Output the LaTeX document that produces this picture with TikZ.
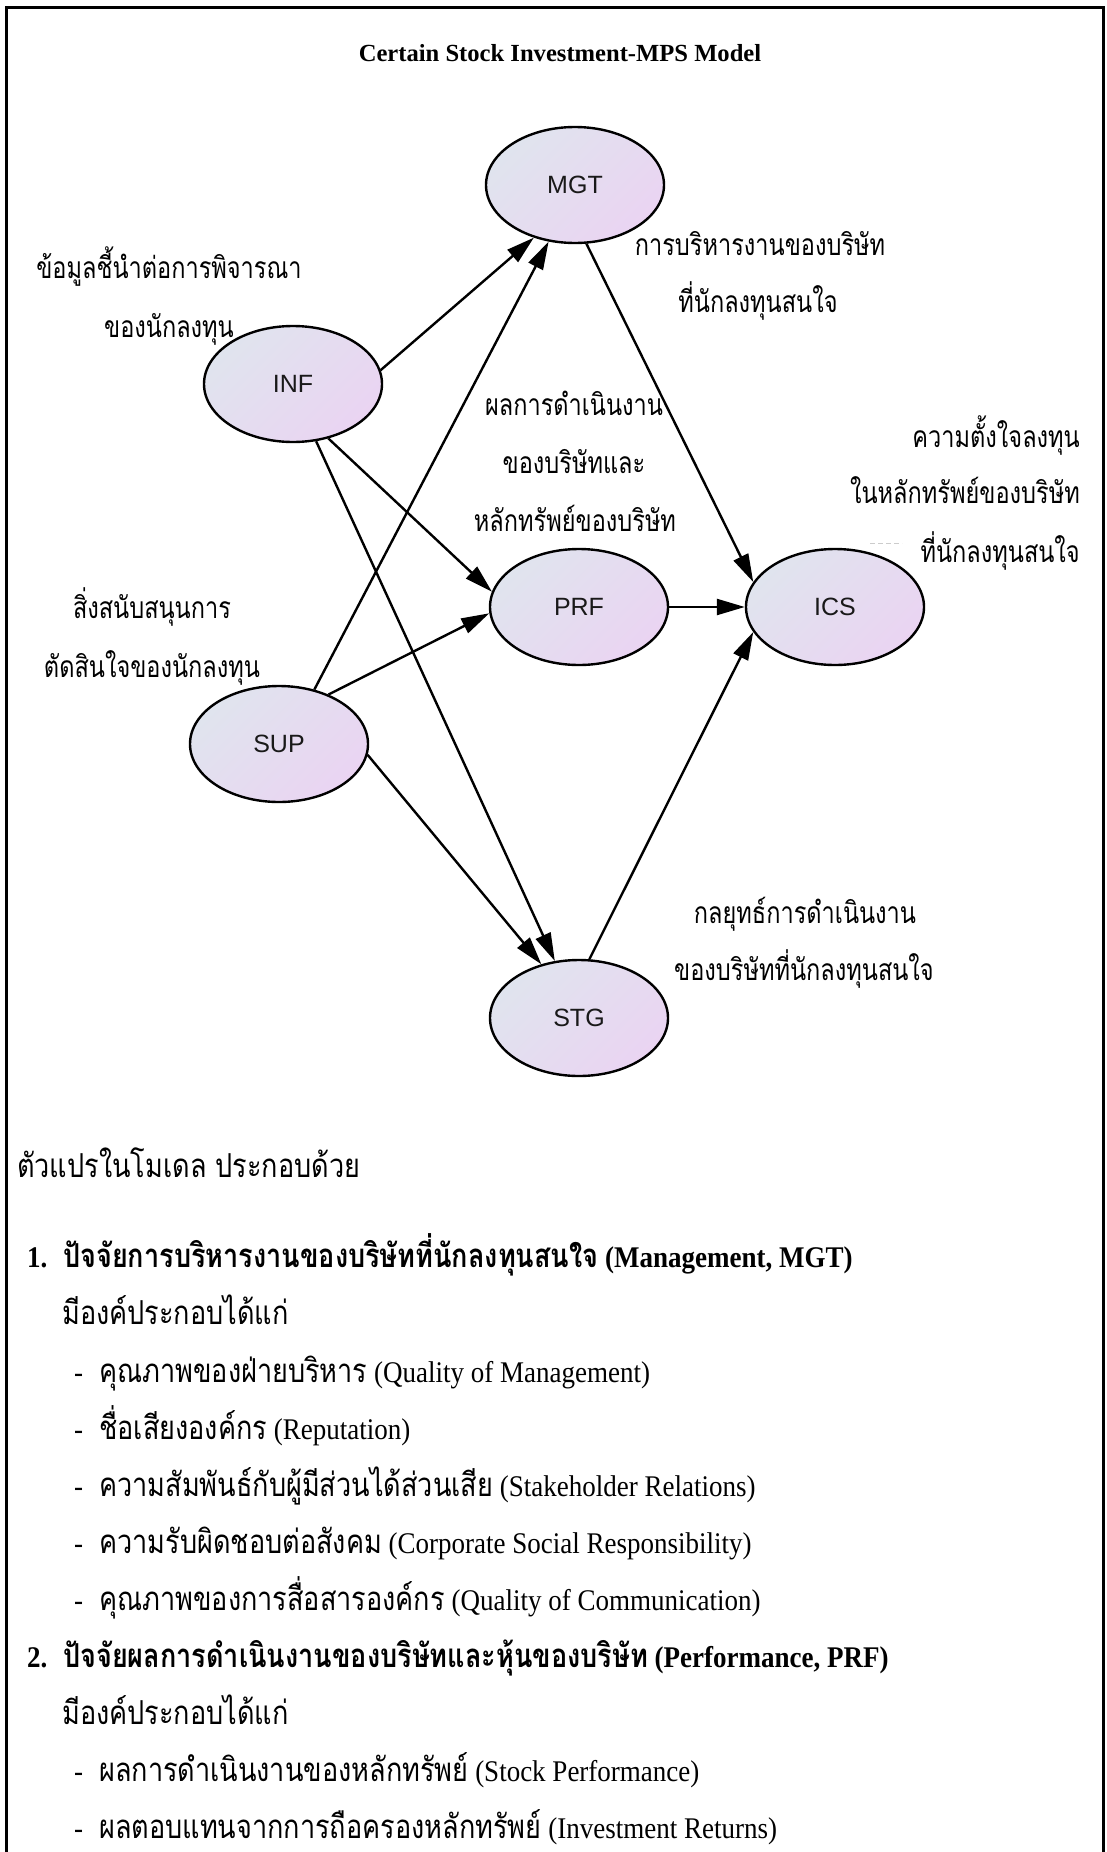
\documentclass[tikz,border=0pt]{standalone}
\usepackage{fontspec}
\setmainfont{Liberation Serif}
\newfontfamily\thai[Script=Thai,FakeStretch=0.785]{Loma}
\newfontfamily\thaiwide[Script=Thai,FakeStretch=0.82]{Loma}
\newfontfamily\latnarrow[FakeStretch=0.9]{Liberation Serif}
\newfontfamily\lbl{Liberation Sans}
\usetikzlibrary{shapes.geometric,arrows.meta}

\definecolor{shadeA}{RGB}{224,228,238}
\definecolor{shadeB}{RGB}{234,212,242}
\definecolor{ink}{RGB}{25,25,25}

% Thai text beside the variables, Thai text of the list, Latin text of the list
\newcommand{\thtxt}{\thai\fontsize{30}{36}\selectfont}
\newcommand{\lsttxt}{\thaiwide\fontsize{33}{40}\selectfont}
\newcommand{\entxt}{\latnarrow\fontsize{30}{36}\selectfont}

\tikzset{
  var/.style={ellipse, draw=black, line width=2.4pt,
    minimum width=178pt, minimum height=116pt, inner sep=0pt,
    top color=shadeA, bottom color=shadeB, shading angle=45,
    font=\lbl\fontsize{25}{30}\selectfont, text=ink},
  link/.style={line width=2.4pt, -{Triangle[length=28pt,width=16pt]}},
  th/.style={font=\thtxt, inner sep=0pt, anchor=base},
  item/.style={inner sep=0pt, anchor=base west},
}

\begin{document}
\begin{tikzpicture}[x=1pt,y=-1pt]
  \useasboundingbox (0,0) rectangle (1106,1852);
  \fill[white] (0,0) rectangle (1106,1852);

  % open frame (no bottom edge)
  \draw[line width=3pt] (6,1852) -- (6,8) -- (1103,8) -- (1103,1852);

  % title
  \node[inner sep=0pt, anchor=base, font=\rmfamily\bfseries\fontsize{24.6}{30}\selectfont] (title) at (560,62) {Certain Stock Investment-MPS Model};

  % latent variables
  \node[var] (MGT) at (575,185) {MGT};
  \node[var] (INF) at (293,384) {INF};
  \node[var] (PRF) at (579,607) {PRF};
  \node[var] (ICS) at (835,607) {ICS};
  \node[var] (SUP) at (279,744) {SUP};
  \node[var] (STG) at (579,1018) {STG};

  % paths
  \draw[link] (INF.9)   -- (MGT.232);
  \draw[link] (INF.303) -- (PRF.170);
  \draw[link] (INF.292) -- (STG.113);
  \draw[link] (SUP.57)  -- (MGT.245);
  \draw[link] (SUP.45)  -- (PRF.184);
  \draw[link] (SUP.353) -- (STG.125);
  \draw[link] (MGT.281) -- (ICS.163);
  \draw[link] (PRF.east) -- (ICS.west);
  \draw[link] (STG.80)  -- (ICS.197);

  % variable descriptions
  \node[th] (infA) at (169,278) {ข้อมูลชี้นำต่อการพิจารณา};
  \node[th] (infB) at (169,337) {ของนักลงทุน};
  \node[th] (mgtA) at (760,255) {การบริหารงานของบริษัท};
  \node[th] (mgtB) at (758,312) {ที่นักลงทุนสนใจ};
  \node[th] (prfA) at (574,415) {ผลการดำเนินงาน};
  \node[th] (prfB) at (574,473) {ของบริษัทและ};
  \node[th] (prfC) at (575,531) {หลักทรัพย์ของบริษัท};
  \node[th, anchor=base east] (icsA) at (1080,447) {ความตั้งใจลงทุน};
  \node[th, anchor=base east] (icsB) at (1080,503) {ในหลักทรัพย์ของบริษัท};
  \node[th, anchor=base east] (icsC) at (1080,562) {ที่นักลงทุนสนใจ};
  \draw[gray!40, line width=1pt, dash pattern=on 5pt off 3pt] (870,543) -- (902,543);
  \node[th] (supA) at (152,618) {สิ่งสนับสนุนการ};
  \node[th] (supB) at (152,677) {ตัดสินใจของนักลงทุน};
  \node[th] (stgA) at (805,923) {กลยุทธ์การดำเนินงาน};
  \node[th] (stgB) at (804,980) {ของบริษัทที่นักลงทุนสนใจ};

  % list of variables
  \node[item] (intro) at (17,1177) {\lsttxt ตัวแปรในโมเดล ประกอบด้วย};

  \node[item] (n1) at (27,1267) {\entxt\bfseries 1.};
  \node[item] (h1) at (63,1267) {{\lsttxt\bfseries ปัจจัยการบริหารงานของบริษัทที่นักลงทุนสนใจ}{\entxt\bfseries\space(Management, MGT)}};
  \node[item] (c1) at (62,1324) {\lsttxt มีองค์ประกอบได้แก่};
  \node[item] (d11) at (74,1382) {\entxt -};
  \node[item] (s11) at (99,1382) {{\lsttxt คุณภาพของฝ่ายบริหาร}{\entxt\space(Quality of Management)}};
  \node[item] (d12) at (74,1439) {\entxt -};
  \node[item] (s12) at (99,1439) {{\lsttxt ชื่อเสียงองค์กร}{\entxt\space(Reputation)}};
  \node[item] (d13) at (74,1496) {\entxt -};
  \node[item] (s13) at (99,1496) {{\lsttxt ความสัมพันธ์กับผู้มีส่วนได้ส่วนเสีย}{\entxt\space(Stakeholder Relations)}};
  \node[item] (d14) at (74,1553) {\entxt -};
  \node[item] (s14) at (99,1553) {{\lsttxt ความรับผิดชอบต่อสังคม}{\entxt\space(Corporate Social Responsibility)}};
  \node[item] (d15) at (74,1610) {\entxt -};
  \node[item] (s15) at (99,1610) {{\lsttxt คุณภาพของการสื่อสารองค์กร}{\entxt\space(Quality of Communication)}};

  \node[item] (n2) at (27,1667) {\entxt\bfseries 2.};
  \node[item] (h2) at (63,1667) {{\lsttxt\bfseries ปัจจัยผลการดำเนินงานของบริษัทและหุ้นของบริษัท}{\entxt\bfseries\space(Performance, PRF)}};
  \node[item] (c2) at (62,1724) {\lsttxt มีองค์ประกอบได้แก่};
  \node[item] (d21) at (74,1781) {\entxt -};
  \node[item] (s21) at (99,1781) {{\lsttxt ผลการดำเนินงานของหลักทรัพย์}{\entxt\space(Stock Performance)}};
  \node[item] (d22) at (74,1838) {\entxt -};
  \node[item] (s22) at (99,1838) {{\lsttxt ผลตอบแทนจากการถือครองหลักทรัพย์}{\entxt\space(Investment Returns)}};
\end{tikzpicture}
\end{document}
